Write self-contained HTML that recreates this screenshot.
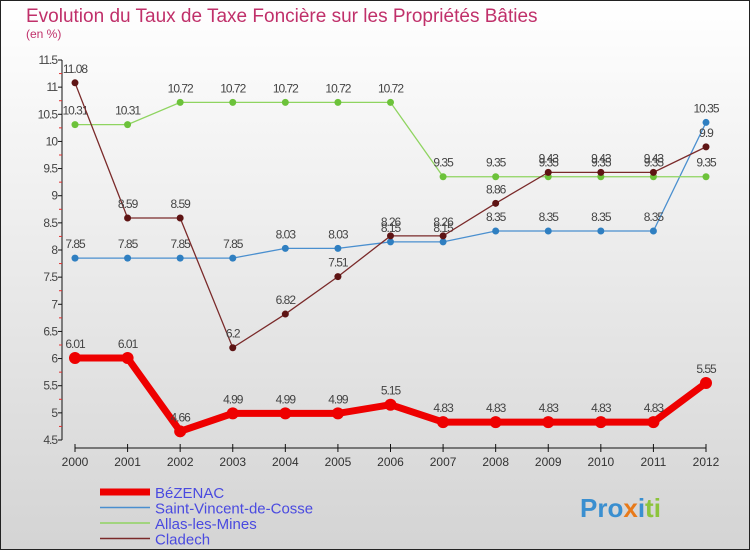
<!DOCTYPE html>
<html><head><meta charset="utf-8"><style>
body{margin:0;width:750px;height:550px;overflow:hidden;font-family:"Liberation Sans",sans-serif}
svg{display:block}
</style></head><body>
<svg id="c" width="750" height="550" xmlns="http://www.w3.org/2000/svg">
<defs><linearGradient id="bg" x1="0" y1="0" x2="0" y2="1"><stop offset="0" stop-color="#ffffff"/><stop offset="1" stop-color="#d4d4d4"/></linearGradient></defs>
<rect x="0.5" y="0.5" width="749" height="549" fill="url(#bg)" stroke="#222"/>
<text x="26" y="22" font-size="19" fill="#c0306a">Evolution du Taux de Taxe Foncière sur les Propriétés Bâties</text>
<text x="26" y="38" font-size="12" fill="#c0306a">(en %)</text>
<g id="axes"></g><g id="series"></g><g id="legend"></g>
<text x="580" y="517" font-size="26" font-weight="bold" fill="#3a8fd0">Pro<tspan fill="#e87a1a">x</tspan><tspan fill="#3a8fd0">i</tspan><tspan fill="#8cc43c">ti</tspan></text>
</svg>
<script>
const years=[2000,2001,2002,2003,2004,2005,2006,2007,2008,2009,2010,2011,2012];
const bezenac=[6.01,6.01,4.66,4.99,4.99,4.99,5.15,4.83,4.83,4.83,4.83,4.83,5.55];
const stVincent=[7.85,7.85,7.85,7.85,8.03,8.03,8.15,8.15,8.35,8.35,8.35,8.35,10.35];
const allas=[10.31,10.31,10.72,10.72,10.72,10.72,10.72,9.35,9.35,9.35,9.35,9.35,9.35];
const cladech=[11.08,8.59,8.59,6.2,6.82,7.51,8.26,8.26,8.86,9.43,9.43,9.43,9.9];
const yTicks=[4.5,5,5.5,6,6.5,7,7.5,8,8.5,9,9.5,10,10.5,11,11.5];
const seriesNames=["BéZENAC","Saint-Vincent-de-Cosse","Allas-les-Mines","Cladech"];
const NS="http://www.w3.org/2000/svg";
const X=i=>75+i*(706-75)/(years.length-1);
const Y=v=>60+(11.5-v)*(440-60)/7;
function mk(t,a,p){const e=document.createElementNS(NS,t);for(const k in a)e.setAttribute(k,a[k]);p.appendChild(e);return e;}
const ax=document.getElementById('axes');
let l=mk('line',{x1:62,y1:60,x2:62,y2:440,stroke:'#111'},ax);

yTicks.forEach((v,i)=>{
 mk('line',{x1:58,y1:Y(v),x2:62,y2:Y(v),stroke:'#111'},ax);
 if(i<yTicks.length-1){const m=mk('line',{x1:59,y1:Y(v+0.25),x2:62,y2:Y(v+0.25),stroke:'#e03030'},ax);}
 const t=mk('text',{x:57,y:Y(v)+4,'font-size':12,'text-anchor':'end',fill:'#444','letter-spacing':'-1'},ax);
 t.textContent=String(v);
 
});
l=mk('line',{x1:75,y1:448,x2:706,y2:448,stroke:'#111'},ax);

years.forEach((y,i)=>{
 mk('line',{x1:X(i),y1:444,x2:X(i),y2:452,stroke:'#111'},ax);
 const t=mk('text',{x:X(i),y:466,'font-size':12,'text-anchor':'middle',fill:'#333'},ax);
 t.textContent=y;
 
});
const sg=document.getElementById('series');
const defs=[[stVincent,'#4a8fcf',1.3,3.5,'#2f7fc1'],[allas,'#8fd460',1.3,3.5,'#6cc23a'],[cladech,'#7a2a2a',1.3,3.5,'#5e1414'],[bezenac,'#ee0000',7,6,'#ee0000']];
const names=['saint-vincent','allas','cladech','bezenac'];
defs.forEach((d,si)=>{
 const [vals,col,w,r,mc]=d;
 const p=mk('polyline',{points:vals.map((v,i)=>X(i)+','+Y(v)).join(' '),fill:'none',stroke:col,'stroke-width':w},sg);
 
 vals.forEach((v,i)=>{
  const c=mk('circle',{cx:X(i),cy:Y(v),r:r,fill:mc},sg);
  
  const t=mk('text',{x:X(i),y:Y(v)-10,'font-size':12,'text-anchor':'middle',fill:'#444','letter-spacing':'-1'},sg);
  t.textContent=String(v);
  
 });
});
const lg=document.getElementById('legend');
const lc=['#ee0000','#4a8fcf','#8fd460','#7a2a2a'],lw=[7,1.5,1.5,1.5];
seriesNames.forEach((n,i)=>{
 const y=492+i*15.5;
 const ln=mk('line',{x1:100,y1:y,x2:150,y2:y,stroke:lc[i],'stroke-width':lw[i]},lg);
 
 const t=mk('text',{x:155,y:y+6,'font-size':15,fill:'#4a4ae0'},lg);
 t.textContent=n;
 
});
</script>
</body></html>
